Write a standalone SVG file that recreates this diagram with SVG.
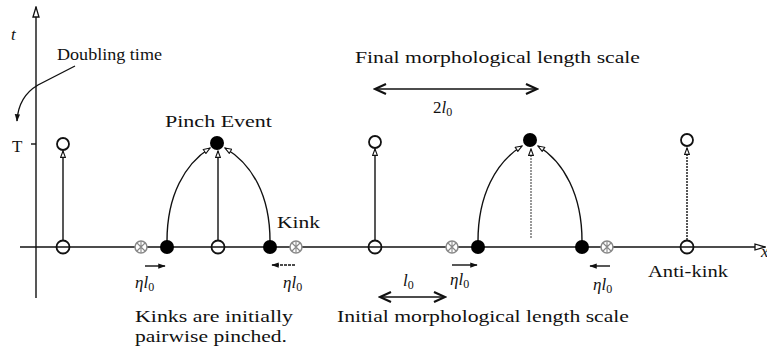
<svg xmlns="http://www.w3.org/2000/svg" width="767" height="364" viewBox="0 0 767 364">
<style>
text{font-family:"Liberation Serif","Times New Roman","DejaVu Serif",serif;font-size:17px;fill:#111}
.m{font-style:italic}
.ln{stroke:#111;stroke-width:1.4;fill:none}
.op{fill:none;stroke:#111;stroke-width:1.8}
.fl{fill:#000}
.gr{fill:#fff;stroke:#888;stroke-width:1.5}
.grx{stroke:#888;stroke-width:1.1}
</style>
<defs>
<marker id="oa" viewBox="0 0 10 8" refX="9" refY="4" markerWidth="8" markerHeight="6.4" markerUnits="userSpaceOnUse" orient="auto">
<path d="M1,1 L9,4 L1,7 Z" fill="#fff" stroke="#111" stroke-width="1.4"/>
</marker>
<marker id="ax" viewBox="0 0 12 8" refX="11" refY="4" markerWidth="12" markerHeight="8" markerUnits="userSpaceOnUse" orient="auto">
<path d="M1,1 L11,4 L1,7 Z" fill="#fff" stroke="#111" stroke-width="1.3"/>
</marker>
<marker id="sa" viewBox="0 0 10 8" refX="9" refY="4" markerWidth="8" markerHeight="6" markerUnits="userSpaceOnUse" orient="auto">
<path d="M0,0.5 L10,4 L0,7.5 Z" fill="#111"/>
</marker>
<marker id="ch" viewBox="0 0 14 12" refX="12" refY="6" markerWidth="14" markerHeight="12" markerUnits="userSpaceOnUse" orient="auto-start-reverse">
<path d="M1,1 L12,6 L1,11" fill="none" stroke="#111" stroke-width="2.2"/>
</marker>
</defs>

<g id="axes">
<line class="ln" x1="20" y1="247" x2="765" y2="247" marker-end="url(#ax)"/>
<line class="ln" x1="36" y1="298" x2="36" y2="7" marker-end="url(#ax)"/>
<line class="ln" x1="31" y1="144" x2="36" y2="144"/>
<text x="11" y="40" class="m" font-size="18">t</text>
<text x="12" y="152">T</text>
<text x="761" y="257" class="m">x</text>
</g>

<g id="connectors">
<path class="ln" d="M75,66 L38,85 C26,92 18,103 17,121" marker-end="url(#sa)"/>
<line class="ln" x1="63" y1="240" x2="63" y2="151" marker-end="url(#oa)"/>
<path class="ln" d="M167,241 C167,195 185,164 210,148" marker-end="url(#oa)"/>
<path class="ln" d="M270,241 C270,195 252,164 225,148" marker-end="url(#oa)"/>
<line class="ln" x1="218" y1="240" x2="218" y2="151" marker-end="url(#oa)"/>
<line class="ln" x1="375" y1="240" x2="375" y2="149" marker-end="url(#oa)"/>
<path class="ln" d="M478,241 C478,195 496,162 522,146" marker-end="url(#oa)"/>
<path class="ln" d="M582,241 C582,195 564,162 538,146" marker-end="url(#oa)"/>
<line x1="531" y1="238" x2="531" y2="149" stroke="#555" stroke-width="1.2" stroke-dasharray="2,1" marker-end="url(#oa)"/>
<line class="ln" x1="687" y1="240" x2="687" y2="148" stroke-dasharray="2,1" marker-end="url(#oa)"/>
<line class="ln" x1="375" y1="89" x2="537" y2="89" stroke-width="2" marker-start="url(#ch)" marker-end="url(#ch)"/>
<line class="ln" x1="380" y1="297" x2="445" y2="297" stroke-width="2" marker-start="url(#ch)" marker-end="url(#ch)"/>
<line class="ln" x1="145" y1="266" x2="165" y2="266" marker-end="url(#sa)"/>
<line class="ln" x1="295" y1="265" x2="272" y2="265" stroke-dasharray="3,1" marker-end="url(#sa)"/>
<line class="ln" x1="452" y1="265" x2="477" y2="265" marker-end="url(#sa)"/>
<line class="ln" x1="610" y1="266" x2="590" y2="266" marker-end="url(#sa)"/>
</g>

<g id="node-left">
<circle class="op" cx="63" cy="144" r="6"/>
<circle class="op" cx="63" cy="247" r="6.5"/>
</g>

<g id="node-pinch1">
<circle class="fl" cx="217" cy="143" r="7"/>
<circle class="fl" cx="167" cy="247" r="7"/>
<circle class="fl" cx="270" cy="247" r="7"/>
<circle class="op" cx="218" cy="247" r="6.5"/>
<g id="ghost1"><circle class="gr" cx="141" cy="247" r="6"/><path class="grx" d="M137,243 L145,251 M145,243 L137,251 M141,241.5 L141,252.5"/></g>
<g id="ghost2"><circle class="gr" cx="296" cy="247" r="6"/><path class="grx" d="M292,243 L300,251 M300,243 L292,251 M296,241.5 L296,252.5"/></g>
</g>

<g id="node-mid">
<circle class="op" cx="375" cy="142" r="6"/>
<circle class="op" cx="375" cy="247" r="6.5"/>
</g>

<g id="node-pinch2">
<circle class="fl" cx="530" cy="140" r="7"/>
<circle class="fl" cx="478" cy="247" r="7"/>
<circle class="fl" cx="582" cy="247" r="7"/>
<g id="ghost3"><circle class="gr" cx="452" cy="247" r="6"/><path class="grx" d="M448,243 L456,251 M456,243 L448,251 M452,241.5 L452,252.5"/></g>
<g id="ghost4"><circle class="gr" cx="607" cy="247" r="6"/><path class="grx" d="M603,243 L611,251 M611,243 L603,251 M607,241.5 L607,252.5"/></g>
</g>

<g id="node-right">
<circle class="op" cx="687" cy="140" r="6"/>
<circle class="op" cx="687" cy="247" r="6.5"/>
</g>

<g id="labels">
<text x="57" y="60" font-size="15" textLength="105" lengthAdjust="spacingAndGlyphs">Doubling time</text>
<text x="165" y="127" textLength="107" lengthAdjust="spacingAndGlyphs">Pinch Event</text>
<text x="277" y="228" textLength="43" lengthAdjust="spacingAndGlyphs">Kink</text>
<text x="648" y="277" textLength="80" lengthAdjust="spacingAndGlyphs">Anti-kink</text>
<text x="355" y="63" textLength="285" lengthAdjust="spacingAndGlyphs">Final morphological length scale</text>
<text x="433" y="113"><tspan>2</tspan><tspan class="m">l</tspan><tspan font-size="12" dy="3">0</tspan></text>
<text x="403" y="286"><tspan class="m">l</tspan><tspan font-size="12" dy="3">0</tspan></text>
<text x="135" y="288"><tspan class="m">ηl</tspan><tspan font-size="12" dy="3">0</tspan></text>
<text x="283" y="288"><tspan class="m">ηl</tspan><tspan font-size="12" dy="3">0</tspan></text>
<text x="450" y="285"><tspan class="m">ηl</tspan><tspan font-size="12" dy="3">0</tspan></text>
<text x="593" y="290"><tspan class="m">ηl</tspan><tspan font-size="12" dy="3">0</tspan></text>
<text x="135" y="322" font-size="16.5" textLength="158" lengthAdjust="spacingAndGlyphs">Kinks are initially</text>
<text x="135" y="342" font-size="16.5" textLength="152" lengthAdjust="spacingAndGlyphs">pairwise pinched.</text>
<text x="337" y="322" textLength="292" lengthAdjust="spacingAndGlyphs">Initial morphological length scale</text>
</g>
</svg>
